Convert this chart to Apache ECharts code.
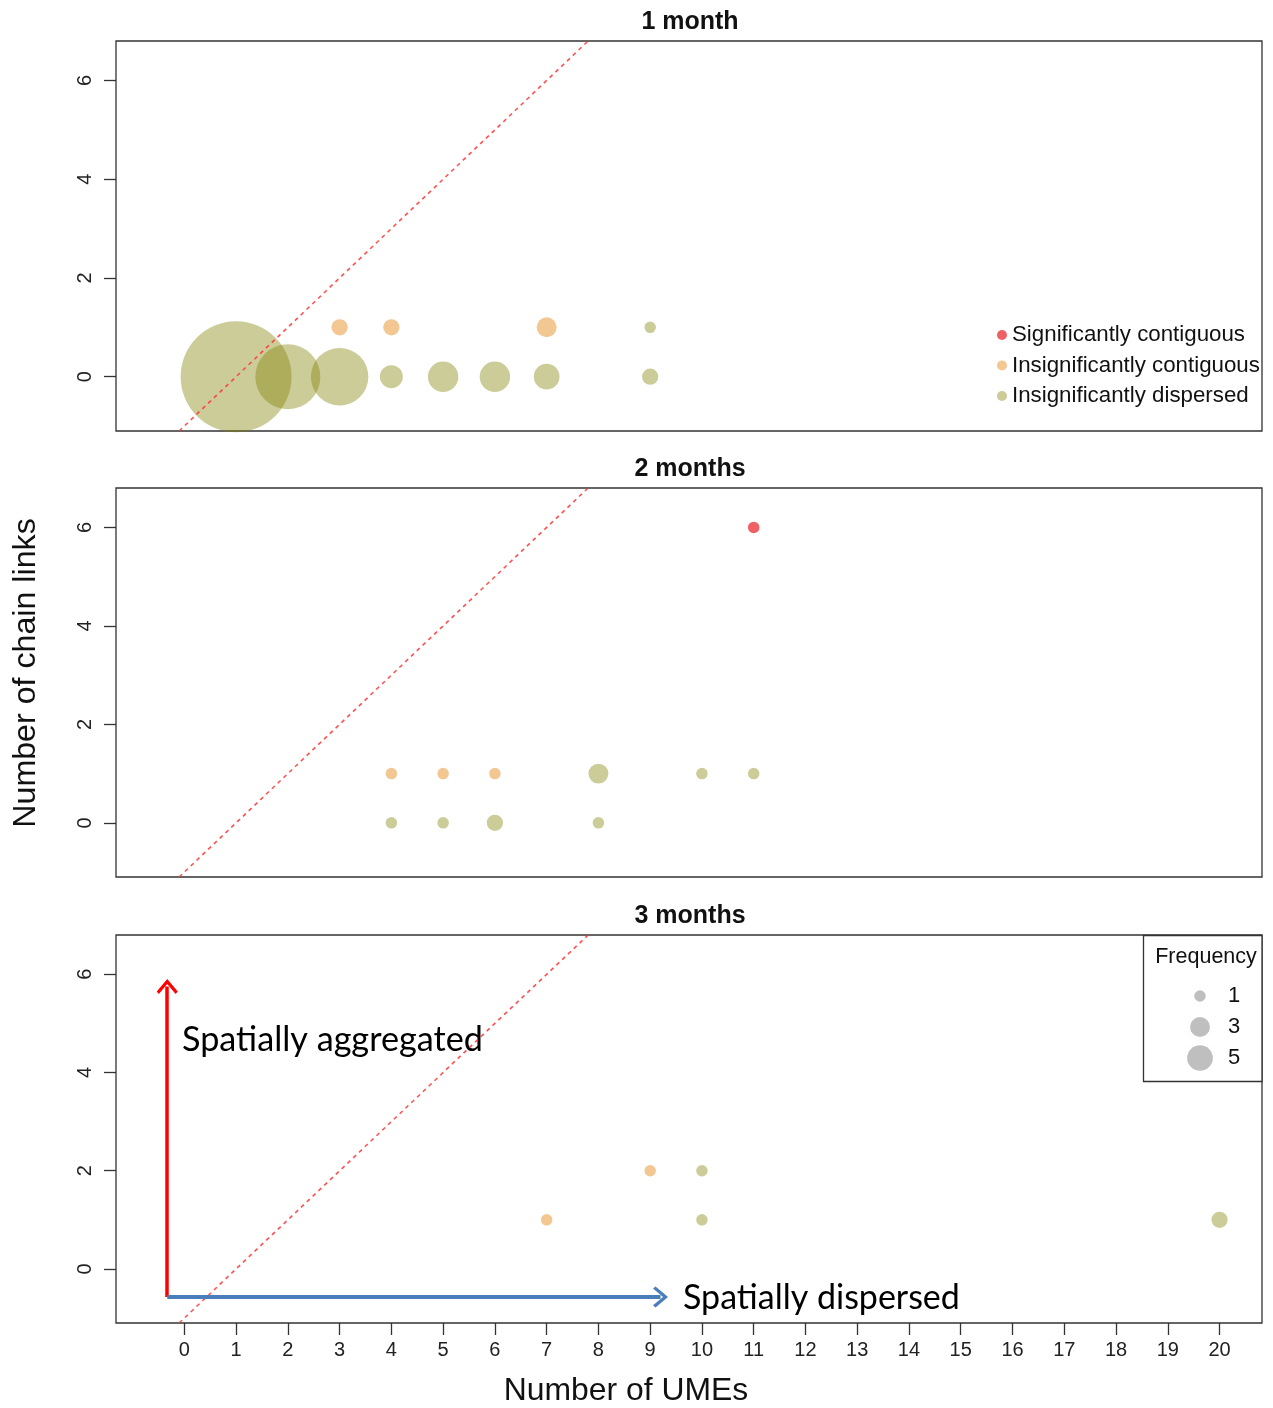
<!DOCTYPE html>
<html>
<head>
<meta charset="utf-8">
<script src="https://cdn.jsdelivr.net/npm/echarts@6/dist/echarts.min.js"></script>
<style>
html,body{margin:0;padding:0;background:#fff;}
#chart{width:1273px;height:1408px;}
</style>
</head>
<body>
<div id="chart"></div>
<script>
// ---------------- data ----------------
// each point: [number of UMEs, number of chain links, frequency]
const panelTitles = ['1 month', '2 months', '3 months'];
const categoryNames = ['Significantly contiguous', 'Insignificantly contiguous', 'Insignificantly dispersed'];

const sigContiguous1 = [];
const insigContiguous1 = [[3, 1, 2], [4, 1, 2], [7, 1, 3]];
const insigDispersed1 = [[1, 0, 93], [2, 0, 32], [3, 0, 25], [4, 0, 4], [5, 0, 7], [6, 0, 7], [7, 0, 5], [9, 0, 2], [9, 1, 1]];

const sigContiguous2 = [[11, 6, 1]];
const insigContiguous2 = [[4, 1, 1], [5, 1, 1], [6, 1, 1]];
const insigDispersed2 = [[4, 0, 1], [5, 0, 1], [6, 0, 2], [8, 0, 1], [8, 1, 3], [10, 1, 1], [11, 1, 1]];

const sigContiguous3 = [];
const insigContiguous3 = [[7, 1, 1], [9, 2, 1]];
const insigDispersed3 = [[10, 1, 1], [10, 2, 1], [20, 1, 2]];

const xTicks = [0,1,2,3,4,5,6,7,8,9,10,11,12,13,14,15,16,17,18,19,20];
const yTicks = [0, 2, 4, 6];
const freqLegendValues = [1, 3, 5];

// axis ranges & reference line (y = x - 1)
const X_MIN = -1.32, X_MAX = 20.82;
const Y_MIN = -1.1, Y_MAX = 6.8;
const DIAG_OFFSET = 1;

// arrows (data coordinates in the 3 months panel)
const arrowOrigin = [-0.33, -0.57];
const aggregatedArrowEndY = 5.75;
const dispersedArrowEndX = 9.2;

// ---------------- styles ----------------
const COLORS = ['rgba(230,6,13,0.8)', 'rgba(228,128,6,0.55)', 'rgba(128,128,0,0.5)'];
const FONT = '"Liberation Sans", Arial, sans-serif';
const ANNOT_FONT = 'Lato, "Open Sans", sans-serif';
const sizeOf = f => 11.5 * Math.sqrt(f);

const gridTops = [41, 488, 935];
const gridHeights = [390, 389, 388];

const chart = echarts.init(document.getElementById('chart'));

const grids = gridTops.map((t, i) => ({
  left: 116, right: 11, top: t, height: gridHeights[i],
  show: true, borderColor: '#333', borderWidth: 1.3, backgroundColor: 'transparent'
}));

const xAxes = gridTops.map((t, i) => ({
  type: 'value', gridIndex: i, min: X_MIN, max: X_MAX, show: i === 2, position: 'bottom',
  splitLine: {show: false},
  axisLine: {show: false, onZero: false},
  axisTick: {show: true, customValues: xTicks, length: 12, inside: false, lineStyle: {color: '#333', width: 1.3}},
  axisLabel: {customValues: xTicks, fontSize: 20, fontFamily: FONT, color: '#222', margin: 17}
}));

const yAxes = gridTops.map((t, i) => ({
  type: 'value', gridIndex: i, min: Y_MIN, max: Y_MAX, position: 'left',
  splitLine: {show: false},
  axisLine: {show: false, onZero: false},
  axisTick: {show: true, customValues: yTicks, length: 12, lineStyle: {color: '#333', width: 1.3}},
  axisLabel: {customValues: yTicks, rotate: 90, fontSize: 20, fontFamily: FONT, color: '#222', margin: 21}
}));

const panelData = [
  [sigContiguous1, insigContiguous1, insigDispersed1],
  [sigContiguous2, insigContiguous2, insigDispersed2],
  [sigContiguous3, insigContiguous3, insigDispersed3]
];

const chevron = 'path://M0,0 L10,10 L8,12 L0,4 L-8,12 L-10,10 Z';

const series = [];
panelData.forEach((cats, gi) => {
  // draw dispersed first, then contiguous, then significant
  [2, 1, 0].forEach(ci => {
    const s = {
      type: 'scatter', name: categoryNames[ci],
      xAxisIndex: gi, yAxisIndex: gi,
      data: cats[ci],
      symbol: 'circle',
      symbolSize: v => sizeOf(v[2]),
      itemStyle: {color: COLORS[ci]},
      emphasis: {disabled: true},
      clip: false, z: 2
    };
    if (ci === 2) {
      const lines = [[
        {coord: [Y_MIN + DIAG_OFFSET, Y_MIN], symbol: 'none'},
        {coord: [Y_MAX + DIAG_OFFSET, Y_MAX], symbol: 'none'}
      ]];
      if (gi === 2) {
        lines.push([
          {coord: arrowOrigin, symbol: 'none', lineStyle: {color: '#ff0000', width: 3.5, type: 'solid'}},
          {coord: [arrowOrigin[0], aggregatedArrowEndY], symbol: chevron, symbolSize: [21, 15]}
        ]);
        lines.push([
          {coord: arrowOrigin, symbol: 'none', lineStyle: {color: '#4a7ebb', width: 4, type: 'solid'}},
          {coord: [dispersedArrowEndX, arrowOrigin[1]], symbol: chevron, symbolSize: [21, 15]}
        ]);
      }
      s.markLine = {
        silent: true, symbol: 'none', animation: false,
        label: {show: false},
        lineStyle: {color: 'rgba(255,50,50,0.85)', type: [4, 4], width: 1.6},
        emphasis: {disabled: true},
        data: lines
      };
    }
    series.push(s);
  });
});

// fit helper for annotation text widths
const ctx = document.createElement('canvas').getContext('2d');
function fitSize(text, family, weight, target) {
  ctx.font = weight + ' 100px ' + family;
  return Math.round(100 * target / ctx.measureText(text).width * 10) / 10;
}

const graphic = [];
panelTitles.forEach((t, i) => {
  graphic.push({type: 'text', x: 690, y: gridTops[i] - 19,
    style: {text: t, fontSize: 25, fontWeight: 'bold', fontFamily: FONT, fill: '#111', align: 'center', verticalAlign: 'middle'}});
});
graphic.push({type: 'text', x: 26, y: 673, rotation: Math.PI / 2,
  style: {text: 'Number of chain links', fontSize: fitSize('Number of chain links', FONT, 'normal', 310), fontFamily: FONT, fill: '#111', align: 'center', verticalAlign: 'middle'}});
graphic.push({type: 'text', x: 626, y: 1391,
  style: {text: 'Number of UMEs', fontSize: fitSize('Number of UMEs', FONT, 'normal', 245), fontFamily: FONT, fill: '#111', align: 'center', verticalAlign: 'middle'}});
graphic.push({type: 'text', x: 182, y: 1040,
  style: {text: 'Spatially aggregated', fontSize: fitSize('Spatially aggregated', ANNOT_FONT, 'normal', 301), fontFamily: ANNOT_FONT, fill: '#000', align: 'left', verticalAlign: 'middle'}});
graphic.push({type: 'text', x: 683, y: 1298,
  style: {text: 'Spatially dispersed', fontSize: fitSize('Spatially dispersed', ANNOT_FONT, 'normal', 277), fontFamily: ANNOT_FONT, fill: '#000', align: 'left', verticalAlign: 'middle'}});

// frequency legend
graphic.push({type: 'rect', shape: {x: 1143.5, y: 935.5, width: 118.5, height: 146},
  style: {fill: '#fff', stroke: '#333', lineWidth: 1.3}, z: 10});
graphic.push({type: 'text', x: 1206, y: 957, z: 11,
  style: {text: 'Frequency', fontSize: 21.5, fontFamily: FONT, fill: '#111', align: 'center', verticalAlign: 'middle'}});
freqLegendValues.forEach((f, k) => {
  const cy = 996 + k * 31;
  graphic.push({type: 'circle', z: 11, shape: {cx: 1200, cy: cy, r: sizeOf(f) / 2},
    style: {fill: 'rgba(128,128,128,0.5)'}});
  graphic.push({type: 'text', x: 1234, y: cy, z: 11,
    style: {text: String(f), fontSize: 22, fontFamily: FONT, fill: '#111', align: 'center', verticalAlign: 'middle'}});
});

chart.setOption({
  animation: false,
  backgroundColor: '#fff',
  grid: grids,
  xAxis: xAxes,
  yAxis: yAxes,
  legend: {
    data: categoryNames, orient: 'vertical', left: 997, top: 324, padding: 0,
    icon: 'circle', itemWidth: 10, itemHeight: 10, itemGap: 8.5, selectedMode: false,
    textStyle: {fontSize: 22.3, fontFamily: FONT, color: '#111'}
  },
  series: series,
  graphic: graphic
});
</script>
</body>
</html>
